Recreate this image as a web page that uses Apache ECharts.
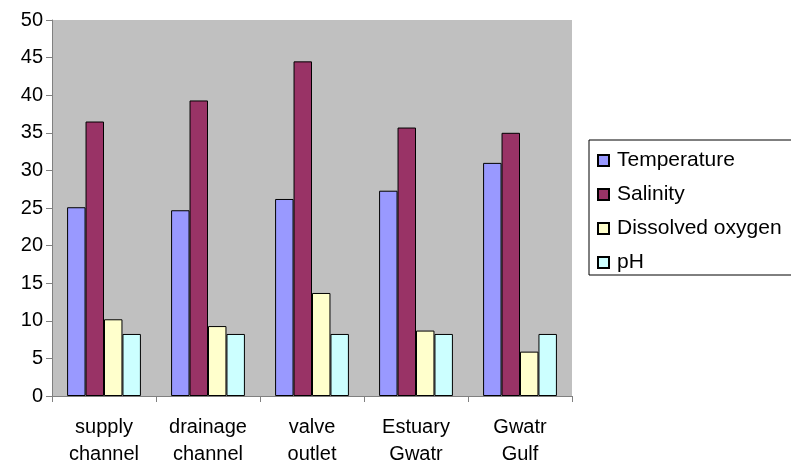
<!DOCTYPE html>
<html>
<head>
<meta charset="utf-8">
<script src="https://cdn.jsdelivr.net/npm/echarts@6/dist/echarts.min.js"></script>
<style>html,body{margin:0;padding:0;background:#fff;}#c{width:791px;height:464px;}</style>
</head>
<body>
<div id="c"></div>
<script>
const categories = ['supply\nchannel', 'drainage\nchannel', 'valve\noutlet', 'Estuary\nGwatr', 'Gwatr\nGulf'];
const temperature = [25.1, 24.7, 26.2, 27.3, 31.0];
const salinity = [36.5, 39.3, 44.5, 35.7, 35.0];
const dissolvedOxygen = [10.2, 9.3, 13.7, 8.7, 5.9];
const pH = [8.25, 8.25, 8.25, 8.25, 8.25];
const seriesNames = ['Temperature', 'Salinity', 'Dissolved oxygen', 'pH'];
const seriesColors = ['#9999FF', '#993366', '#FFFFCC', '#CCFFFF'];
const yTicks = { min: 0, max: 50, interval: 5 };

const font = 'Liberation Sans, Arial, sans-serif';
const dataSets = [temperature, salinity, dissolvedOxygen, pH];

const chart = echarts.init(document.getElementById('c'), null, { renderer: 'canvas' });
chart.setOption({
  animation: false,
  backgroundColor: '#ffffff',
  textStyle: { fontFamily: font },
  grid: {
    left: 52, right: 219, top: 20, bottom: 68,
    outerBoundsMode: 'none',
    containLabel: false,
    show: true, backgroundColor: '#C0C0C0', borderWidth: 0
  },
  legend: {
    orient: 'vertical',
    left: 589, top: 140,
    padding: [10, 24, 2, 8],
    itemGap: 13,
    itemWidth: 11, itemHeight: 11,
    icon: 'rect',
    borderColor: '#000', borderWidth: 1,
    backgroundColor: '#fff',
    textStyle: { fontSize: 21, color: '#000', fontFamily: font, padding: [0, 0, 0, 3] },
    data: seriesNames
  },
  xAxis: {
    type: 'category',
    data: categories,
    boundaryGap: true,
    axisLine: { show: true, lineStyle: { color: '#808080', width: 1 } },
    axisTick: { show: true, length: 6, lineStyle: { color: '#808080' } },
    axisLabel: { fontSize: 20, color: '#000', lineHeight: 27, margin: 18, fontFamily: font, interval: 0 },
    splitLine: { show: false }
  },
  yAxis: {
    type: 'value',
    min: yTicks.min, max: yTicks.max, interval: yTicks.interval,
    axisLine: { show: true, lineStyle: { color: '#808080', width: 1 } },
    axisTick: { show: true, length: 6, lineStyle: { color: '#808080' } },
    axisLabel: { fontSize: 20, color: '#000', margin: 9, fontFamily: font },
    splitLine: { show: false }
  },
  series: seriesNames.map((name, i) => ({
    name: name,
    type: 'bar',
    data: dataSets[i],
    barGap: '0%',
    barCategoryGap: '29%',
    itemStyle: { color: seriesColors[i], borderColor: '#000', borderWidth: 1 }
  }))
});
</script>
</body>
</html>
